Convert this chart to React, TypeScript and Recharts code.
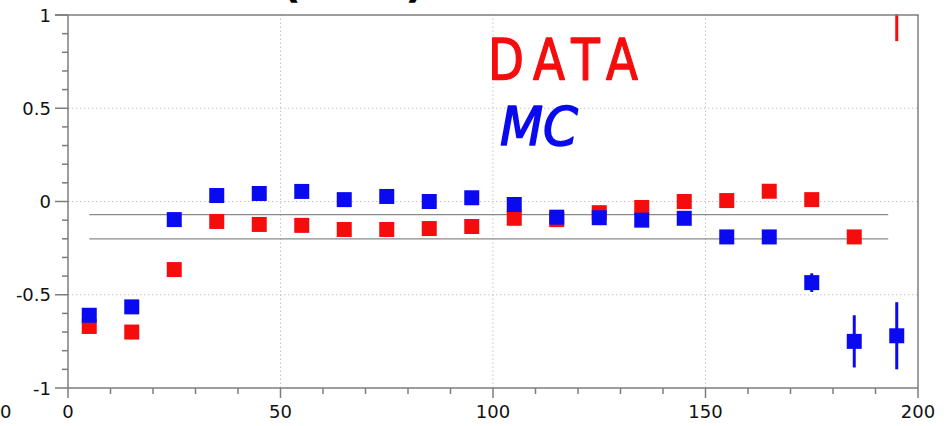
import { ScatterChart, Scatter, XAxis, YAxis, ReferenceLine, ErrorBar } from "recharts";

// bin centres and per-bin values for both samples
const binCentres = [5, 15, 25, 35, 45, 55, 65, 75, 85, 95, 105, 115, 125, 135, 145, 155, 165, 175, 185, 195];
const dataValues = [-0.67, -0.7, -0.365, -0.107, -0.123, -0.128, -0.15, -0.15, -0.145, -0.134, -0.09, -0.097, -0.06, -0.032, 0.0, 0.005, 0.055, 0.01, -0.19, 1.12];
const dataErrors = [0.015, 0.015, 0.012, 0.01, 0.01, 0.01, 0.01, 0.01, 0.01, 0.01, 0.01, 0.01, 0.012, 0.012, 0.014, 0.016, 0.018, 0.02, 0.03, 0.26];
const mcValues = [-0.61, -0.565, -0.097, 0.032, 0.043, 0.054, 0.01, 0.027, 0.0, 0.02, -0.016, -0.084, -0.087, -0.1, -0.09, -0.19, -0.19, -0.435, -0.75, -0.72];
const mcErrors = [0.012, 0.012, 0.01, 0.01, 0.01, 0.01, 0.01, 0.01, 0.01, 0.01, 0.01, 0.01, 0.012, 0.012, 0.015, 0.018, 0.02, 0.05, 0.14, 0.18];

const xTicks = [0, 10, 20, 30, 40, 50, 60, 70, 80, 90, 100, 110, 120, 130, 140, 150, 160, 170, 180, 190, 200];
const yTicks = [-1, -0.9, -0.8, -0.7, -0.6, -0.5, -0.4, -0.3, -0.2, -0.1, 0, 0.1, 0.2, 0.3, 0.4, 0.5, 0.6, 0.7, 0.8, 0.9, 1];
const xGrid = [50, 100, 150];
const yGrid = [-0.5, 0, 0.5];
const bandLevels = [-0.07, -0.2];
const bandRange = [5, 193];

const AXIS = "#7c7c7c";
const RED = "#f50d0d";
const BLUE = "#0a0af0";
const FONT = "'DejaVu Sans', Verdana, sans-serif";

const dataRows = binCentres.map((x, i) => ({ x, y: dataValues[i], err: dataErrors[i] }));
const mcRows = binCentres.map((x, i) => ({ x, y: mcValues[i], err: mcErrors[i] }));

const square = (fill: string) => (props: any) => (
  <rect x={props.cx - 7.5} y={props.cy - 7.5} width={15} height={15} fill={fill} />
);

function XTick({ x, y, payload }: any) {
  const major = payload.value % 50 === 0;
  return (
    <g>
      <line x1={x} x2={x} y1={y} y2={y + (major ? 10 : 6)} stroke={AXIS} strokeWidth={1.5} />
      {major && (
        <text x={x} y={y + 30} textAnchor="middle" fontSize={18} fill="#111" fontFamily={FONT}>
          {payload.value}
        </text>
      )}
    </g>
  );
}

function YTick({ x, y, payload }: any) {
  const v = payload.value;
  const major = Math.abs(v * 2 - Math.round(v * 2)) < 1e-6;
  return (
    <g>
      <line x1={x - (major ? 13 : 6)} x2={x} y1={y} y2={y} stroke={AXIS} strokeWidth={1.5} />
      {major && (
        <text x={x - 17} y={y + 6.5} textAnchor="end" fontSize={18} fill="#111" fontFamily={FONT}>
          {v}
        </text>
      )}
    </g>
  );
}

export default function App() {
  return (
    <div style={{ position: "absolute", left: 0, top: 0, width: 947, height: 426, background: "#fff", overflow: "hidden" }}>
      <ScatterChart width={947} height={426} margin={{ top: 15, right: 29, bottom: 8, left: 8 }}>
        <XAxis
          type="number"
          dataKey="x"
          domain={[0, 200]}
          ticks={xTicks}
          interval={0}
          height={30}
          tickSize={0}
          tickMargin={0}
          tick={<XTick />}
          axisLine={{ stroke: AXIS, strokeWidth: 1.5 }}
        />
        <YAxis
          type="number"
          dataKey="y"
          domain={[-1, 1]}
          allowDataOverflow
          ticks={yTicks}
          interval={0}
          width={60}
          tickSize={0}
          tickMargin={0}
          tick={<YTick />}
          axisLine={{ stroke: AXIS, strokeWidth: 1.5 }}
        />
        {xGrid.map(v => (
          <ReferenceLine key={"gx" + v} x={v} stroke="#c4c4c4" strokeDasharray="1.5 2.5" />
        ))}
        {yGrid.map(v => (
          <ReferenceLine key={"gy" + v} y={v} stroke="#c4c4c4" strokeDasharray="1.5 2.5" />
        ))}
        <ReferenceLine x={200} stroke={AXIS} strokeWidth={1.5} />
        {bandLevels.map(v => (
          <ReferenceLine
            key={"band" + v}
            segment={[{ x: bandRange[0], y: v }, { x: bandRange[1], y: v }]}
            stroke="#8a8a8a"
            strokeWidth={1.3}
          />
        ))}
        <Scatter data={dataRows} shape={square(RED)} isAnimationActive={false}>
          <ErrorBar dataKey="err" direction="y" width={0} stroke={RED} strokeWidth={3} />
        </Scatter>
        <Scatter data={mcRows} shape={square(BLUE)} isAnimationActive={false}>
          <ErrorBar dataKey="err" direction="y" width={0} stroke={BLUE} strokeWidth={3} />
        </Scatter>
      </ScatterChart>
      <svg width={947} height={426} style={{ position: "absolute", left: 0, top: 0, pointerEvents: "none" }}>
        {/* mask anything that overflows above the frame, then redraw the top frame edge */}
        <rect x={69} y={0} width={878} height={14.3} fill="#fff" />
        <line x1={55} x2={918.75} y1={15} y2={15} stroke={AXIS} strokeWidth={1.5} />
        <text x={281} y={-3} fontSize={44} fontWeight="bold" fill="#000" fontFamily={FONT}>(</text>
        <text x={405} y={-3} fontSize={44} fontWeight="bold" fill="#000" fontFamily={FONT}>)</text>
        <text x={0} y={418} fontSize={18} fill="#111" fontFamily={FONT}>0</text>
        <g transform="translate(488,80) scale(0.82,1)">
          <text
            x={0}
            y={0}
            fontSize={57}
            fill={RED}
            stroke={RED}
            strokeWidth={1.4}
            strokeLinejoin="round"
            fontFamily={FONT}
            style={{ letterSpacing: 12 }}
          >
            DATA
          </text>
        </g>
        <text
          x={500}
          y={145}
          fontSize={54}
          fontStyle="italic"
          fill={BLUE}
          stroke={BLUE}
          strokeWidth={1.6}
          strokeLinejoin="round"
          fontFamily={FONT}
          textLength={78}
          lengthAdjust="spacingAndGlyphs"
        >
          MC
        </text>
      </svg>
    </div>
  );
}
